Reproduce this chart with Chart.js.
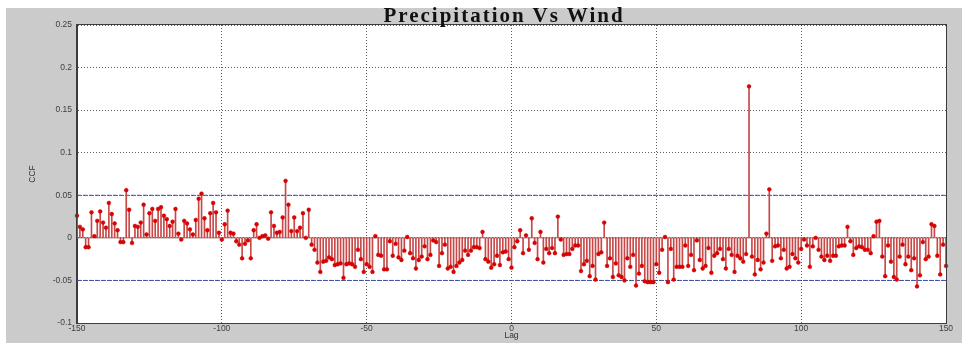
<!DOCTYPE html>
<html>
<head>
<meta charset="utf-8">
<script src="https://cdn.jsdelivr.net/npm/chart.js@4.4.1/dist/chart.umd.min.js"></script>
<style>
  html, body { margin: 0; padding: 0; background: #ffffff; }
  #wrap { position: absolute; left: 6px; top: 8px; width: 956px; height: 335px; background: #cbcbcb; }
  #c { position: absolute; left: 0; top: 0; }
  #title { position: absolute; left: 504px; top: 5px; transform: translateX(-50%); white-space: nowrap;
           font-family: "Liberation Serif", "DejaVu Serif", serif; font-weight: bold; font-size: 21px;
           line-height: 21px; letter-spacing: 2px; color: #111; z-index: 2; }
</style>
</head>
<body>
<div id="wrap"><canvas id="c" width="956" height="335"></canvas></div>
<div id="title">Precipitation Vs Wind</div>
<script>
// ---- data ----
const lags = [
  -150,-149,-148,-147,-146,-145,-144,-143,-142,-141,
  -140,-139,-138,-137,-136,-135,-134,-133,-132,-131,
  -130,-129,-128,-127,-126,-125,-124,-123,-122,-121,
  -120,-119,-118,-117,-116,-115,-114,-113,-112,-111,
  -110,-109,-108,-107,-106,-105,-104,-103,-102,-101,
  -100,-99,-98,-97,-96,-95,-94,-93,-92,-91,
  -90,-89,-88,-87,-86,-85,-84,-83,-82,-81,
  -80,-79,-78,-77,-76,-75,-74,-73,-72,-71,
  -70,-69,-68,-67,-66,-65,-64,-63,-62,-61,
  -60,-59,-58,-57,-56,-55,-54,-53,-52,-51,
  -50,-49,-48,-47,-46,-45,-44,-43,-42,-41,
  -40,-39,-38,-37,-36,-35,-34,-33,-32,-31,
  -30,-29,-28,-27,-26,-25,-24,-23,-22,-21,
  -20,-19,-18,-17,-16,-15,-14,-13,-12,-11,
  -10,-9,-8,-7,-6,-5,-4,-3,-2,-1,
  0,1,2,3,4,5,6,7,8,9,
  10,11,12,13,14,15,16,17,18,19,
  20,21,22,23,24,25,26,27,28,29,
  30,31,32,33,34,35,36,37,38,39,
  40,41,42,43,44,45,46,47,48,49,
  50,51,52,53,54,55,56,57,58,59,
  60,61,62,63,64,65,66,67,68,69,
  70,71,72,73,74,75,76,77,78,79,
  80,81,82,83,84,85,86,87,88,89,
  90,91,92,93,94,95,96,97,98,99,
  100,101,102,103,104,105,106,107,108,109,
  110,111,112,113,114,115,116,117,118,119,
  120,121,122,123,124,125,126,127,128,129,
  130,131,132,133,134,135,136,137,138,139,
  140,141,142,143,144,145,146,147,148,149,
  150
];

const ccf = [
  0.026,0.013,0.010,-0.011,-0.011,0.030,0.002,0.020,0.031,0.018,
  0.012,0.041,0.028,0.017,0.009,-0.005,-0.005,0.056,0.033,-0.006,
  0.014,0.013,0.018,0.039,0.004,0.029,0.034,0.020,0.034,0.036,
  0.026,0.022,0.014,0.019,0.034,0.005,-0.002,0.020,0.017,0.010,
  0.004,0.021,0.046,0.052,0.023,0.009,0.029,0.041,0.030,0.006,
  -0.002,0.016,0.032,0.006,0.005,-0.004,-0.008,-0.024,-0.007,-0.003,
  -0.024,0.009,0.016,0.000,0.002,0.003,-0.001,0.030,0.014,0.006,
  0.007,0.024,0.067,0.039,0.008,0.024,0.008,0.012,0.029,0.000,
  0.033,-0.008,-0.014,-0.029,-0.040,-0.028,-0.027,-0.023,-0.025,-0.032,
  -0.031,-0.030,-0.047,-0.031,-0.030,-0.031,-0.034,-0.014,-0.025,-0.040,
  -0.031,-0.034,-0.040,0.002,-0.020,-0.021,-0.037,-0.037,-0.004,-0.021,
  -0.007,-0.023,-0.026,-0.015,0.001,-0.018,-0.024,-0.036,-0.026,-0.022,
  -0.010,-0.025,-0.020,-0.003,-0.005,-0.033,-0.018,-0.008,-0.036,-0.034,
  -0.040,-0.033,-0.029,-0.026,-0.015,-0.020,-0.015,-0.011,-0.011,-0.012,
  0.007,-0.025,-0.028,-0.035,-0.031,-0.021,-0.032,-0.017,-0.016,-0.025,
  -0.035,-0.011,-0.004,0.009,-0.018,0.003,-0.014,0.023,-0.006,-0.025,
  0.007,-0.029,-0.013,-0.018,-0.012,-0.018,0.025,-0.002,-0.020,-0.019,
  -0.019,-0.013,-0.009,-0.009,-0.039,-0.031,-0.027,-0.045,-0.033,-0.049,
  -0.019,-0.017,0.018,-0.033,-0.024,-0.046,-0.030,-0.044,-0.046,-0.050,
  -0.024,-0.034,-0.020,-0.056,-0.042,-0.033,-0.051,-0.052,-0.052,-0.052,
  -0.031,-0.041,-0.014,0.001,-0.052,-0.013,-0.049,-0.034,-0.034,-0.034,
  -0.009,-0.033,-0.020,-0.038,-0.003,-0.026,-0.036,-0.033,-0.012,-0.041,
  -0.021,-0.018,-0.013,-0.025,-0.036,-0.013,-0.020,-0.040,-0.021,-0.024,
  -0.028,-0.019,0.178,-0.022,-0.043,-0.026,-0.037,-0.029,0.005,0.057,
  -0.027,-0.010,-0.009,-0.024,-0.014,-0.036,-0.034,-0.019,-0.024,-0.029,
  -0.013,-0.002,-0.009,-0.034,-0.010,0.000,-0.014,-0.022,-0.026,-0.021,
  -0.027,-0.021,-0.021,-0.010,-0.009,-0.009,0.013,-0.004,-0.020,-0.012,
  -0.010,-0.011,-0.014,-0.014,-0.018,0.002,0.019,0.020,-0.022,-0.045,
  -0.009,-0.028,-0.046,-0.049,-0.022,-0.008,-0.031,-0.022,-0.038,-0.024,
  -0.057,-0.044,-0.005,-0.025,-0.022,0.016,0.014,-0.021,-0.043,-0.008,
  -0.033
];

const confBounds = [0.05, -0.05];
const xTicks = [-150, -100, -50, 0, 50, 100, 150];
const xTickLabels = ['-150', '-100', '-50', '0', '50', '100', '150'];
const yTicks = [-0.1, -0.05, 0, 0.05, 0.1, 0.15, 0.2, 0.25];
const yTickLabels = ['-0.1', '-0.05', '0', '0.05', '0.1', '0.15', '0.2', '0.25'];

// ---- build chart ----
const points = lags.map((x, i) => ({ x: x, y: ccf[i] }));
const xMin = xTicks[0], xMax = xTicks[xTicks.length - 1];
const yMin = yTicks[0], yMax = yTicks[yTicks.length - 1];

const framePlugin = {
  id: 'frame',
  beforeDraw(chart) {
    const { ctx, chartArea: a } = chart;
    ctx.save();
    ctx.fillStyle = '#ffffff';
    ctx.fillRect(a.left, a.top, a.right - a.left, a.bottom - a.top);
    ctx.restore();
  },
  afterDraw(chart) {
    const { ctx, chartArea: a } = chart;
    ctx.save();
    ctx.strokeStyle = '#3c3c3c';
    ctx.lineWidth = 1;
    ctx.strokeRect(Math.round(a.left) - 0.5, Math.round(a.top) - 0.5,
                   Math.round(a.right - a.left) + 1, Math.round(a.bottom - a.top) + 1);
    ctx.restore();
  }
};

const tickFont = { family: 'Liberation Sans, Arial, sans-serif', size: 8.5 };

new Chart(document.getElementById('c'), {
  type: 'bar',
  data: {
    datasets: [
      {
        type: 'line', label: 'markers', data: points, showLine: false,
        pointRadius: 1.9, pointBackgroundColor: '#e00000', pointBorderColor: '#c00000',
        pointBorderWidth: 0.5, clip: false, order: 0
      },
      {
        type: 'bar', label: 'stems', data: points, backgroundColor: '#c84848',
        barThickness: 1, borderWidth: 0, order: 1
      },
      {
        type: 'line', label: 'baseline', data: [{ x: xMin, y: 0 }, { x: xMax, y: 0 }],
        borderColor: '#8a6060', borderWidth: 1, pointRadius: 0, order: 2
      },
      {
        type: 'line', label: 'upper', data: [{ x: xMin, y: confBounds[0] }, { x: xMax, y: confBounds[0] }],
        borderColor: '#3a4aa0', borderWidth: 1, borderDash: [4, 2], pointRadius: 0, order: 3
      },
      {
        type: 'line', label: 'lower', data: [{ x: xMin, y: confBounds[1] }, { x: xMax, y: confBounds[1] }],
        borderColor: '#3a4aa0', borderWidth: 1, borderDash: [4, 2], pointRadius: 0, order: 3
      }
    ]
  },
  options: {
    responsive: false,
    animation: false,
    devicePixelRatio: 1,
    layout: { padding: { left: 0, right: 16, top: 17, bottom: 0 } },
    plugins: { legend: { display: false }, tooltip: { enabled: false }, title: { display: false } },
    scales: {
      x: {
        type: 'linear', min: xMin, max: xMax, offset: false,
        afterBuildTicks(s) { s.ticks = xTicks.map(v => ({ value: v })); },
        afterFit(s) { s.height = 20; },
        ticks: { callback: (v, i) => xTickLabels[i], font: tickFont, color: '#404040', padding: 1, maxRotation: 0, autoSkip: false },
        grid: { offset: false, drawTicks: false, color: 'rgba(40,40,40,0.75)', lineWidth: 1 },
        border: { display: true, color: '#3c3c3c', dash: [1, 2] },
        title: { display: true, text: 'Lag', font: { family: 'Liberation Sans, Arial, sans-serif', size: 8.5 }, color: '#303030', padding: { top: 0, bottom: 2 } }
      },
      y: {
        type: 'linear', min: yMin, max: yMax,
        afterBuildTicks(s) { s.ticks = yTicks.map(v => ({ value: v })); },
        afterFit(s) { s.width = 71; },
        ticks: { callback: (v, i) => yTickLabels[i], font: tickFont, color: '#404040', padding: 5, autoSkip: false },
        grid: { drawTicks: false, color: 'rgba(40,40,40,0.75)', lineWidth: 1 },
        border: { display: true, color: '#3c3c3c', dash: [1, 2] },
        title: { display: true, text: 'CCF', font: { family: 'Liberation Sans, Arial, sans-serif', size: 8.5 }, color: '#303030', padding: { top: 22, bottom: 0 } }
      }
    }
  },
  plugins: [framePlugin]
});
</script>
</body>
</html>
